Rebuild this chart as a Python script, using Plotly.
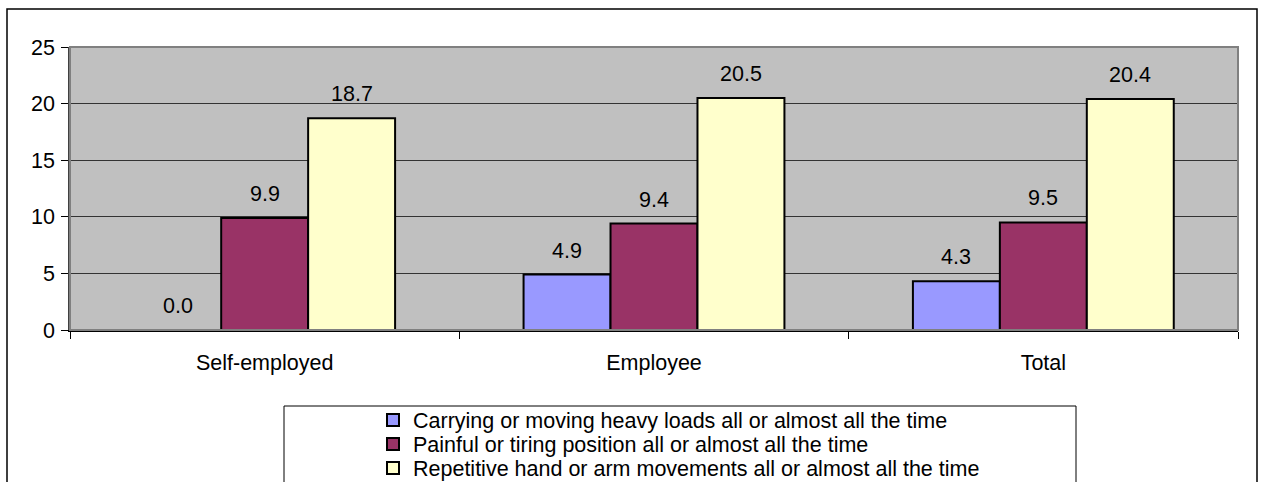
import plotly.graph_objects as go

categories = ["Self-employed", "Employee", "Total"]
series_names = [
    "Carrying or moving heavy loads all or almost all the time",
    "Painful or tiring position all or almost all the time",
    "Repetitive hand or arm movements all or almost all the time",
]
heavy_loads = [0.0, 4.9, 4.3]
painful_position = [9.9, 9.4, 9.5]
repetitive_moves = [18.7, 20.5, 20.4]
colors = ["#9999FF", "#993366", "#FFFFCC"]

W, H = 1264, 482
ML, MR, MT, MB = 70, 26, 47, 152
BARGAP = 0.33
FONT = "Liberation Sans, Arial, sans-serif"
FS = 21.5

plot_w = W - ML - MR
plot_h = H - MT - MB
bar_px = (1 - BARGAP) * plot_w / len(categories) / 3


def px_x(p):
    return (p - ML) / plot_w


def px_y(p):
    return (H - MB - p) / plot_h


legend_ids = ["legend", "legend2", "legend3"]
legend_rows_px = [420, 444, 468]

fig = go.Figure()
all_vals = [heavy_loads, painful_position, repetitive_moves]
for name, vals, col, lid in zip(series_names, all_vals, colors, legend_ids):
    fig.add_trace(go.Bar(
        x=categories, y=vals, name=name, legend=lid,
        marker=dict(color=col, line=dict(color="#000000", width=2)),
    ))

annotations = []
for i, vals in enumerate(all_vals):
    for cat, v in zip(categories, vals):
        annotations.append(dict(
            x=cat, y=v, xref="x", yref="y", text=f"{v:.1f}",
            showarrow=False, xshift=(i - 1) * bar_px, yshift=24,
            yanchor="middle", xanchor="center",
            font=dict(family=FONT, size=FS, color="#000000"),
        ))

shapes = [
    # plot area border
    dict(type="rect", xref="paper", yref="paper", x0=0, x1=1, y0=0, y1=1,
         line=dict(color="#808080", width=2), layer="above"),
    # outer chart border
    dict(type="rect", xref="paper", yref="paper",
         x0=px_x(7), x1=px_x(1257), y0=px_y(9), y1=-2,
         line=dict(color="#000000", width=1.5)),
    # legend box
    dict(type="rect", xref="paper", yref="paper",
         x0=px_x(284), x1=px_x(1076), y0=px_y(406), y1=-2,
         line=dict(color="#000000", width=1)),
]

legend_common = dict(
    xanchor="left", yanchor="middle",
    bgcolor="rgba(0,0,0,0)", borderwidth=0,
    font=dict(family=FONT, size=FS, color="#000000"),
    itemclick=False, itemdoubleclick=False,
)
legend_layout = {}
for lid, row in zip(legend_ids, legend_rows_px):
    legend_layout[lid] = dict(x=px_x(373), y=px_y(row), **legend_common)

fig.update_layout(
    width=W, height=H,
    margin=dict(l=ML, r=MR, t=MT, b=MB, pad=0, autoexpand=False),
    paper_bgcolor="#FFFFFF",
    plot_bgcolor="#C0C0C0",
    barmode="group", bargap=BARGAP, bargroupgap=0,
    font=dict(family=FONT, size=FS, color="#000000"),
    showlegend=True,
    annotations=annotations,
    shapes=shapes,
    **legend_layout,
)
fig.update_xaxes(
    showline=True, linecolor="#000000", linewidth=1.5,
    ticks="outside", tickson="boundaries", ticklen=7, tickcolor="#000000", tickwidth=1,
    showgrid=False, ticklabelstandoff=12,
    tickfont=dict(family=FONT, size=FS, color="#000000"),
)
fig.update_yaxes(
    range=[0, 25], dtick=5, tick0=0,
    showline=True, linecolor="#404040", linewidth=1.5,
    ticks="outside", ticklen=7, tickcolor="#000000", tickwidth=1,
    showgrid=True, gridcolor="#333333", gridwidth=1,
    zeroline=False, ticklabelstandoff=2,
    tickfont=dict(family=FONT, size=FS, color="#000000"),
)

fig.write_html(
    "out.html",
    config={"displayModeBar": False},
    post_script="document.body.style.margin='0';document.body.style.overflow='hidden';",
)
